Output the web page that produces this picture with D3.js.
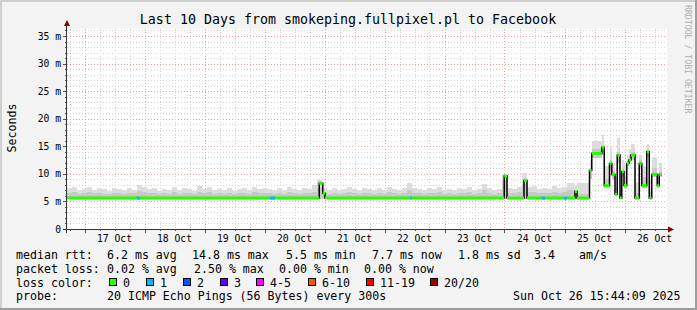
<!DOCTYPE html>
<html>
<head>
<meta charset="utf-8">
<script src="https://cdn.jsdelivr.net/npm/d3@7"></script>
<style>
body { margin: 0; background: #f3f3f3; }
text { font-family: "DejaVu Sans Mono", monospace; fill: #000; }
</style>
</head>
<body>
<div id="smokeping"></div>
<script>
var w = 697, h = 310;

// graph covers 10 days, hours counted from 16 Oct 17:00
var startTime = Date.UTC(2025, 9, 16, 17);
var endHour = 238;

// smoke, 2 hour bins up to hour 202, then segments following the median
var smokeStart = d3.range(0, 202, 2).concat([203.2, 204, 209, 209.9, 213.9, 214.9, 217, 217.9, 219.2, 220.1, 221.2, 221.9, 222.8, 223.9, 224.8, 225.6, 227.2, 228.9, 229.9, 231.9, 232.9, 233.9, 236.1, 236.9]);
var smokeHi = [
  7.4, 7.7, 7.0, 7.2, 7.7, 7.1, 7.5, 7.3, 6.9, 7.5,
  7.2, 7.0, 7.4, 7.1, 8.0, 7.6, 7.2, 7.5, 6.9, 7.3,
  7.1, 7.6, 7.0, 7.4, 7.2, 6.9, 7.8, 7.3, 7.6, 7.0,
  7.3, 7.1, 7.5, 6.9, 7.2, 7.4, 7.0, 7.6, 7.2, 7.5,
  7.3, 7.0, 7.4, 7.1, 7.6, 7.2, 7.0, 7.5, 7.2, 7.9,
  8.8, 7.4, 7.0, 7.4, 7.1, 7.3, 7.6, 7.2, 7.0, 7.5,
  7.3, 7.1, 7.4, 7.0, 7.6, 7.3, 7.1, 7.5, 8.3, 7.4,
  7.2, 7.0, 7.5, 7.2, 7.6, 7.1, 7.3, 7.0, 7.4, 7.2,
  7.6, 7.1, 7.3, 8.2, 7.4, 7.0, 7.3, 10.0, 7.5, 7.2,
  7.6, 10.1, 7.6, 7.8, 7.3, 7.5, 7.2, 7.8, 7.4, 7.6, 8.3,
  8.0, 8.3, 12.5, 16.0, 17.0, 11.5, 15.0, 12.0, 9.5, 16.5, 8.0, 12.5,
  12.0, 13.5, 14.5, 15.5, 8.5, 13.5, 11.5, 15.5, 9.0, 13.0, 10.0, 12.0
];
var smokeMid = [
  6.5, 6.7, 6.4, 6.6, 6.8, 6.5, 6.6, 6.4, 6.3, 6.6,
  6.5, 6.4, 6.6, 6.5, 6.9, 6.7, 6.5, 6.6, 6.3, 6.5,
  6.4, 6.7, 6.4, 6.6, 6.5, 6.3, 6.8, 6.5, 6.7, 6.4,
  6.6, 6.4, 6.6, 6.3, 6.5, 6.6, 6.4, 6.7, 6.5, 6.6,
  6.5, 6.4, 6.6, 6.4, 6.7, 6.5, 6.4, 6.6, 6.5, 6.8,
  7.5, 6.6, 6.4, 6.6, 6.4, 6.5, 6.7, 6.5, 6.4, 6.6,
  6.5, 6.4, 6.6, 6.4, 6.7, 6.5, 6.4, 6.6, 7.0, 6.6,
  6.5, 6.4, 6.6, 6.5, 6.7, 6.4, 6.5, 6.4, 6.6, 6.5,
  6.7, 6.4, 6.5, 7.0, 6.6, 6.4, 6.5, 8.8, 6.6, 6.5,
  6.7, 8.2, 6.7, 6.8, 6.5, 6.6, 6.5, 6.8, 6.6, 6.7, 7.0,
  6.6, 6.4, 11.0, 14.5, 15.3, 9.0, 12.5, 10.5, 7.5, 14.0, 6.5, 11.0,
  9.5, 12.5, 13.5, 14.0, 6.5, 12.5, 9.5, 14.5, 6.8, 11.0, 8.5, 10.5
];
var smokeLo = [
  5.4, 5.4, 5.4, 5.4, 5.4, 5.4, 5.4, 5.4, 5.4, 5.4,
  5.4, 5.4, 5.4, 5.4, 5.4, 5.4, 5.4, 5.4, 5.4, 5.4,
  5.4, 5.4, 5.4, 5.4, 5.4, 5.4, 5.4, 5.4, 5.4, 5.4,
  5.4, 5.4, 5.4, 5.4, 5.4, 5.4, 5.4, 5.4, 5.4, 5.4,
  5.4, 5.4, 5.4, 5.4, 5.4, 5.4, 5.4, 5.4, 5.4, 5.4,
  5.5, 5.4, 5.4, 5.4, 5.4, 5.4, 5.4, 5.4, 5.4, 5.4,
  5.4, 5.4, 5.4, 5.4, 5.4, 5.4, 5.4, 5.4, 5.4, 5.4,
  5.4, 5.4, 5.4, 5.4, 5.4, 5.4, 5.4, 5.4, 5.4, 5.4,
  5.4, 5.4, 5.4, 5.4, 5.4, 5.4, 5.4, 5.5, 5.4, 5.4,
  5.4, 5.5, 5.4, 5.4, 5.4, 5.4, 5.4, 5.4, 5.4, 5.4, 5.4,
  5.6, 5.5, 9.0, 12.8, 13.5, 7.5, 10.5, 9.0, 6.0, 12.0, 5.5, 9.5,
  7.5, 11.5, 12.0, 12.5, 5.5, 11.0, 7.5, 13.0, 5.5, 9.5, 7.5, 9.5
];

// median rtt (ms), value holds from its start hour until the next one
var medianStart = [0, 100.9, 102.3, 103.2, 174.9, 176, 182.8, 184, 203.2, 204, 209, 209.9, 213.9, 214.9, 217, 217.9, 219.2, 220.1, 221.2, 221.9, 222.8, 223.9, 224.8, 225.6, 227.2, 228.9, 229.9, 231.9, 232.9, 233.9, 236.1, 236.9];
var medianValue = [5.6, 8.3, 6.5, 5.6, 9.6, 5.6, 8.8, 5.6, 6.8, 5.6, 10.6, 13.7, 14.8, 7.9, 11.9, 9.9, 6.3, 13.4, 5.6, 10.4, 7.9, 11.9, 12.5, 13.4, 5.6, 11.9, 7.9, 14.0, 5.6, 9.9, 7.9, 9.9];

// stretches with 1 lost ping
var lossStart = [27.9, 81.2, 137.2, 189.9, 198.8];
var lossEnd = [29.2, 83.2, 137.9, 191.2, 199.9];

var yTicks = [0, 5, 10, 15, 20, 25, 30, 35];
var dayLabels = ["17 Oct", "18 Oct", "19 Oct", "20 Oct", "21 Oct", "22 Oct", "23 Oct", "24 Oct", "25 Oct", "26 Oct"];

var lossLabels = ["0", "1", "2", "3", "4-5", "6-10", "11-19", "20/20"];
var lossColours = ["#26ff00", "#00b8ff", "#0059ff", "#5e00ff", "#ff00ff", "#ff5500", "#ff0000", "#a10000"];

function hourDate(hr) { return new Date(startTime + hr * 36e5); }

var x = d3.scaleUtc()
    .domain([hourDate(0), hourDate(240)])
    .range([67, 667]);
var y = d3.scaleLinear()
    .domain([0, 36.27])
    .range([229, 29]);

var svg = d3.select("#smokeping").append("svg")
    .attr("width", w)
    .attr("height", h)
    .style("display", "block");

// frame
svg.append("rect").attr("width", w).attr("height", h).attr("fill", "#f3f3f3");
svg.append("path").attr("d", "M1,309 V1 H696").attr("stroke", "#cfcfcf").attr("stroke-width", 2).attr("fill", "none");
svg.append("path").attr("d", "M0,309 H696 V0").attr("stroke", "#9e9e9e").attr("stroke-width", 2).attr("fill", "none");

// plot canvas
svg.append("rect")
    .attr("x", 67).attr("y", 29)
    .attr("width", 600).attr("height", 200)
    .attr("fill", "#fff");

var grid = svg.append("g").attr("shape-rendering", "crispEdges");

// horizontal grid, every ms, red every 5 ms
grid.selectAll(".hgrid")
    .data(d3.range(1, 37))
    .enter().append("line")
    .attr("x1", 67).attr("x2", 667)
    .attr("y1", function(d) { return Math.round(y(d)) + 0.5; })
    .attr("y2", function(d) { return Math.round(y(d)) + 0.5; })
    .attr("stroke", function(d) { return d % 5 == 0 ? "#f2a0a0" : "#d4d4d4"; })
    .attr("stroke-dasharray", "1,2");

// vertical grid, every 6 h, red at midnight
var sixHours = d3.utcHour.every(6).range(hourDate(0), hourDate(240.1));
grid.selectAll(".vgrid")
    .data(sixHours)
    .enter().append("line")
    .attr("x1", function(d) { return Math.round(x(d)) + 0.5; })
    .attr("x2", function(d) { return Math.round(x(d)) + 0.5; })
    .attr("y1", 29).attr("y2", 229)
    .attr("stroke", function(d) { return d.getUTCHours() == 0 ? "#f2a0a0" : "#d4d4d4"; })
    .attr("stroke-dasharray", "1,2");

// smoke
var segs = smokeStart.map(function(s, i) {
    return {
        x0: x(hourDate(s)),
        x1: x(hourDate(i < smokeStart.length - 1 ? smokeStart[i + 1] : endHour)),
        lo: smokeLo[i], mid: smokeMid[i], hi: smokeHi[i]
    };
});
var smoke = svg.append("g").attr("shape-rendering", "crispEdges");
smoke.selectAll(".hi")
    .data(segs).enter().append("rect")
    .attr("x", function(d) { return d.x0; })
    .attr("width", function(d) { return d.x1 - d.x0; })
    .attr("y", function(d) { return y(d.hi); })
    .attr("height", function(d) { return y(d.lo) - y(d.hi); })
    .attr("fill", "#dcdcdc");
smoke.selectAll(".mid")
    .data(segs).enter().append("rect")
    .attr("x", function(d) { return d.x0; })
    .attr("width", function(d) { return d.x1 - d.x0; })
    .attr("y", function(d) { return y(d.mid); })
    .attr("height", function(d) { return y(d.lo) - y(d.mid); })
    .attr("fill", "#c8c8c8");

// median line, black steps then coloured by loss
var medPts = medianStart.map(function(s, i) { return [s, medianValue[i]]; });
medPts.push([endHour, medianValue[medianValue.length - 1]]);

var stepLine = d3.line()
    .x(function(d) { return x(hourDate(d[0])); })
    .y(function(d) { return y(d[1]); })
    .curve(d3.curveStepAfter);

svg.append("path")
    .datum(medPts)
    .attr("d", stepLine)
    .attr("fill", "none")
    .attr("stroke", "#000")
    .attr("stroke-width", 1.5);

var medSegs = medianStart.map(function(s, i) {
    return { s: s, e: i < medianStart.length - 1 ? medianStart[i + 1] : endHour, v: medianValue[i] };
});
svg.selectAll(".med")
    .data(medSegs).enter().append("line")
    .attr("x1", function(d) { return x(hourDate(d.s)); })
    .attr("x2", function(d) { return x(hourDate(d.e)); })
    .attr("y1", function(d) { return y(d.v); })
    .attr("y2", function(d) { return y(d.v); })
    .attr("stroke", lossColours[0])
    .attr("stroke-width", 3);

function medianAt(hr) {
    var i = d3.bisectRight(medianStart, hr) - 1;
    return medianValue[i];
}
svg.selectAll(".loss")
    .data(lossStart).enter().append("line")
    .attr("x1", function(d) { return x(hourDate(d)); })
    .attr("x2", function(d, i) { return x(hourDate(lossEnd[i])); })
    .attr("y1", function(d) { return y(medianAt(d)); })
    .attr("y2", function(d) { return y(medianAt(d)); })
    .attr("stroke", lossColours[1])
    .attr("stroke-width", 3);

// axes
var axis = svg.append("g").attr("shape-rendering", "crispEdges");
axis.selectAll(".ytick")
    .data(d3.range(0, 37))
    .enter().append("line")
    .attr("x1", function(d) { return d % 5 == 0 ? 63 : 65; })
    .attr("x2", 67)
    .attr("y1", function(d) { return Math.round(y(d)) + 0.5; })
    .attr("y2", function(d) { return Math.round(y(d)) + 0.5; })
    .attr("stroke", "#555");
axis.selectAll(".xtick")
    .data(sixHours)
    .enter().append("line")
    .attr("x1", function(d) { return Math.round(x(d)) + 0.5; })
    .attr("x2", function(d) { return Math.round(x(d)) + 0.5; })
    .attr("y1", 229)
    .attr("y2", function(d) { return d.getUTCHours() == 0 ? 233 : 231; })
    .attr("stroke", "#555");
axis.append("line").attr("x1", 63).attr("x2", 669).attr("y1", 229.5).attr("y2", 229.5).attr("stroke", "#333");
axis.append("line").attr("x1", 66.5).attr("x2", 66.5).attr("y1", 233).attr("y2", 25).attr("stroke", "#333");
svg.append("path").attr("d", "M64,26 L67,20 L70,26 Z").attr("fill", "#8b0000");
svg.append("path").attr("d", "M668,226.5 L674,229.5 L668,232.5 Z").attr("fill", "#8b0000");

svg.selectAll(".ylab")
    .data(yTicks).enter().append("text")
    .attr("x", 61)
    .attr("y", function(d) { return y(d) + 3.5; })
    .attr("text-anchor", "end")
    .attr("font-size", "9.7px")
    .text(function(d) { return d == 0 ? "0" : d + " m"; });

var noons = d3.utcDay.range(hourDate(0), hourDate(240)).map(function(d) { return d3.utcHour.offset(d, 12); });
svg.selectAll(".xlab")
    .data(dayLabels).enter().append("text")
    .attr("x", function(d, i) { return x(noons[i]); })
    .attr("y", 241.5)
    .attr("text-anchor", "middle")
    .attr("font-size", "9.7px")
    .text(function(d) { return d; });

// titles
svg.append("text")
    .attr("x", 348).attr("y", 23.5)
    .attr("text-anchor", "middle")
    .attr("font-size", "13.3px")
    .text("Last 10 Days from smokeping.fullpixel.pl to Facebook");
svg.append("text")
    .attr("transform", "translate(15.5,128) rotate(-90)")
    .attr("text-anchor", "middle")
    .attr("font-size", "11.6px")
    .text("Seconds");
svg.append("text")
    .attr("transform", "translate(685,5) rotate(90)")
    .attr("font-size", "8.2px")
    .style("fill", "#b0b0b0")
    .text("RRDTOOL / TOBI OETIKER");

// legend
var legendRows = [
    [[16, "median rtt:"], [107, "6.2 ms avg"], [192, "14.8 ms max"], [286, "5.5 ms min"], [372, "7.7 ms now"], [458, "1.8 ms sd"], [534, "3.4"], [579, "am/s"]],
    [[16, "packet loss:"], [107, "0.02 % avg"], [194, "2.50 % max"], [279, "0.00 % min"], [364, "0.00 % now"]],
    [[16, "loss color:"]],
    [[16, "probe:"], [107, "20 ICMP Echo Pings (56 Bytes) every 300s"], [513, "Sun Oct 26 15:44:09 2025"]]
];
var rowY = [259, 272.8, 286.6, 300.4];
legendRows.forEach(function(row, r) {
    svg.selectAll(".leg" + r)
        .data(row).enter().append("text")
        .attr("x", function(d) { return d[0]; })
        .attr("y", rowY[r])
        .attr("font-size", "11.6px")
        .style("white-space", "pre")
        .text(function(d) { return d[1]; });
});
var boxX = [109, 146, 183, 220, 256, 308, 366, 430];
svg.selectAll(".lossbox")
    .data(lossColours).enter().append("rect")
    .attr("x", function(d, i) { return boxX[i] + 0.5; })
    .attr("y", 278.5)
    .attr("width", 7).attr("height", 7)
    .attr("fill", function(d) { return d; })
    .attr("stroke", "#000");
svg.selectAll(".losslab")
    .data(lossLabels).enter().append("text")
    .attr("x", function(d, i) { return boxX[i] + 14; })
    .attr("y", rowY[2])
    .attr("font-size", "11.6px")
    .text(function(d) { return d; });
</script>
</body>
</html>
